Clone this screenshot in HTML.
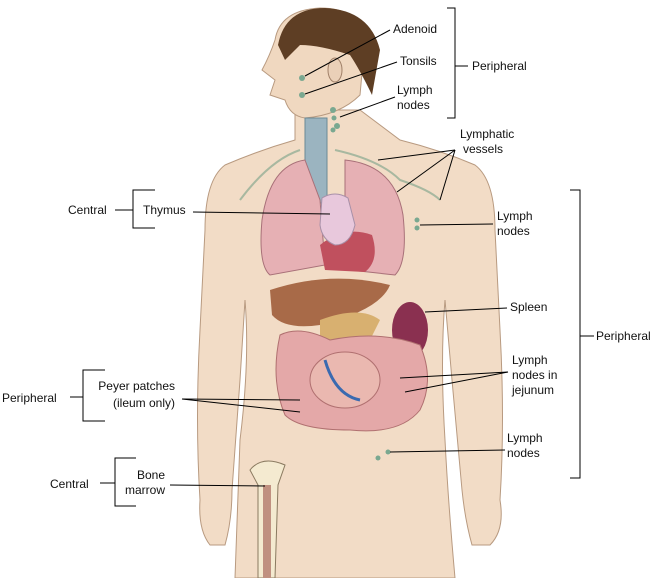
<!DOCTYPE html>
<html><head><meta charset="utf-8"><style>
html,body{margin:0;padding:0;background:#fff;}
svg{display:block}
text{font-family:"Liberation Sans",sans-serif;font-size:12px;fill:#111}
</style></head><body>
<svg width="650" height="578" viewBox="0 0 650 578" xmlns="http://www.w3.org/2000/svg">
<!-- body silhouette -->
<path d="M295,110 L295,140 Q260,150 225,165 Q205,180 205,230 L200,330 Q195,420 200,500 Q198,530 210,545 L225,545 Q232,520 232,490 L240,380 L245,300 Q250,360 240,440 L235,578 L455,578 Q448,500 445,440 Q440,360 445,300 L452,380 L462,490 Q465,520 472,545 L490,545 Q505,530 500,500 Q505,420 500,330 L495,230 Q495,180 475,165 Q440,150 400,140 L360,110 Z" fill="#f2dcc6" stroke="#b89a80" stroke-width="1"/>
<!-- head -->
<path d="M275,40 Q280,10 320,8 Q360,8 365,40 L360,95 Q340,115 305,118 Q290,116 285,100 L270,95 L275,80 L262,70 Q270,55 275,40 Z" fill="#f0d8c0" stroke="#b89a80"/>
<path d="M278,45 Q285,8 325,8 Q370,10 380,50 L372,95 Q360,70 350,55 Q320,45 300,45 Q290,55 285,60 Z" fill="#5e3e24"/>
<ellipse cx="335" cy="70" rx="7" ry="12" fill="#ead0b8" stroke="#a08068"/>
<!-- trachea -->
<rect x="305" y="118" width="22" height="85" fill="#9bb4c0" stroke="#6b8a96"/>
<!-- lymphatic vessels -->
<g stroke="#a8b8a0" stroke-width="2" fill="none">
<path d="M300,150 Q270,160 240,200"/><path d="M335,150 Q380,160 400,180 Q430,190 440,200"/>
</g>
<!-- lungs -->
<path d="M305,160 Q270,165 262,220 Q258,265 270,275 L325,265 L320,200 Z" fill="#e6b0b4" stroke="#a87078"/>
<path d="M345,160 Q395,165 403,215 Q408,262 395,275 L350,270 L345,200 Z" fill="#e6b0b4" stroke="#a87078"/>
<!-- heart -->
<path d="M320,245 Q345,225 372,235 Q380,260 365,272 L325,270 Z" fill="#c0505e"/>
<!-- thymus -->
<path d="M322,198 Q335,190 348,198 L355,225 Q350,245 335,245 Q322,240 320,225 Z" fill="#e8c8dc" stroke="#a890a8"/>
<!-- liver -->
<path d="M270,290 Q330,270 390,285 Q380,310 320,325 Q285,330 272,315 Z" fill="#a86a48"/>
<path d="M320,320 Q360,305 380,320 L370,340 Q340,335 320,345 Z" fill="#d8b070"/>
<ellipse cx="410" cy="330" rx="18" ry="28" fill="#8a3050"/>
<!-- intestines -->
<path d="M280,335 Q300,325 330,340 Q380,330 420,345 Q435,380 420,410 Q400,435 350,430 Q300,430 285,415 Q270,380 280,335 Z" fill="#e4a8a8" stroke="#b07070"/>
<ellipse cx="345" cy="380" rx="35" ry="28" fill="#eab8b0" stroke="#b07070"/>
<path d="M325,360 Q335,395 360,400" stroke="#3a6ab0" stroke-width="3" fill="none"/>
<!-- lymph nodes dots -->
<g fill="#7aa890"><circle cx="302" cy="78" r="3"/><circle cx="302" cy="95" r="3"/><circle cx="333" cy="110" r="3"/><circle cx="334" cy="118" r="2.5"/><circle cx="337" cy="126" r="3"/><circle cx="333" cy="130" r="2.5"/><circle cx="417" cy="220" r="2.5"/><circle cx="417" cy="228" r="2.5"/><circle cx="378" cy="458" r="2.5"/><circle cx="388" cy="452" r="2.5"/></g>
<!-- femur -->
<path d="M250,470 Q262,455 285,465 L278,485 L275,578 L258,578 L258,485 Z" fill="#f4ead0" stroke="#8a7a60"/>
<rect x="263" y="485" width="8" height="93" fill="#c09080"/>
<!-- leader lines -->
<g stroke="#000" stroke-width="1" fill="none">
<line x1="390" y1="30" x2="305" y2="76"/>
<line x1="397" y1="62" x2="305" y2="94"/>
<line x1="395" y1="97" x2="340" y2="117"/>
<polyline points="447,8 455,8 455,118 447,118"/><line x1="455" y1="66" x2="468" y2="66"/>
<line x1="455" y1="150" x2="378" y2="160"/><line x1="455" y1="150" x2="397" y2="192"/><line x1="455" y1="150" x2="440" y2="200"/>
<line x1="193" y1="212" x2="330" y2="214"/>
<polyline points="155,190 133,190 133,228 155,228"/><line x1="115" y1="210" x2="133" y2="210"/>
<line x1="493" y1="224" x2="420" y2="225"/>
<polyline points="570,190 580,190 580,478 570,478"/><line x1="580" y1="336" x2="594" y2="336"/>
<line x1="507" y1="308" x2="425" y2="312"/>
<line x1="508" y1="372" x2="400" y2="378"/><line x1="508" y1="372" x2="405" y2="392"/>
<line x1="182" y1="399" x2="300" y2="400"/><line x1="182" y1="399" x2="300" y2="412"/>
<polyline points="105,370 83,370 83,421 105,421"/><line x1="70" y1="397" x2="83" y2="397"/>
<line x1="505" y1="450" x2="390" y2="452"/>
<polyline points="136,458 115,458 115,506 136,506"/><line x1="100" y1="483" x2="115" y2="483"/>
<line x1="170" y1="485" x2="265" y2="486"/>
</g>
<!-- labels -->
<text x="393" y="33">Adenoid</text>
<text x="400" y="65">Tonsils</text>
<text x="397" y="94">Lymph</text><text x="397" y="109">nodes</text>
<text x="472" y="70">Peripheral</text>
<text x="460" y="138">Lymphatic</text><text x="463" y="153">vessels</text>
<text x="68" y="214">Central</text>
<text x="143" y="214">Thymus</text>
<text x="497" y="220">Lymph</text><text x="497" y="235">nodes</text>
<text x="596" y="340">Peripheral</text>
<text x="510" y="311">Spleen</text>
<text x="512" y="364">Lymph</text><text x="512" y="379">nodes in</text><text x="512" y="394">jejunum</text>
<text x="2" y="402">Peripheral</text>
<text x="175" y="390" text-anchor="end">Peyer patches</text><text x="175" y="407" text-anchor="end">(ileum only)</text>
<text x="507" y="442">Lymph</text><text x="507" y="457">nodes</text>
<text x="50" y="488">Central</text>
<text x="165" y="479" text-anchor="end">Bone</text><text x="165" y="494" text-anchor="end">marrow</text>
</svg>
</body></html>
